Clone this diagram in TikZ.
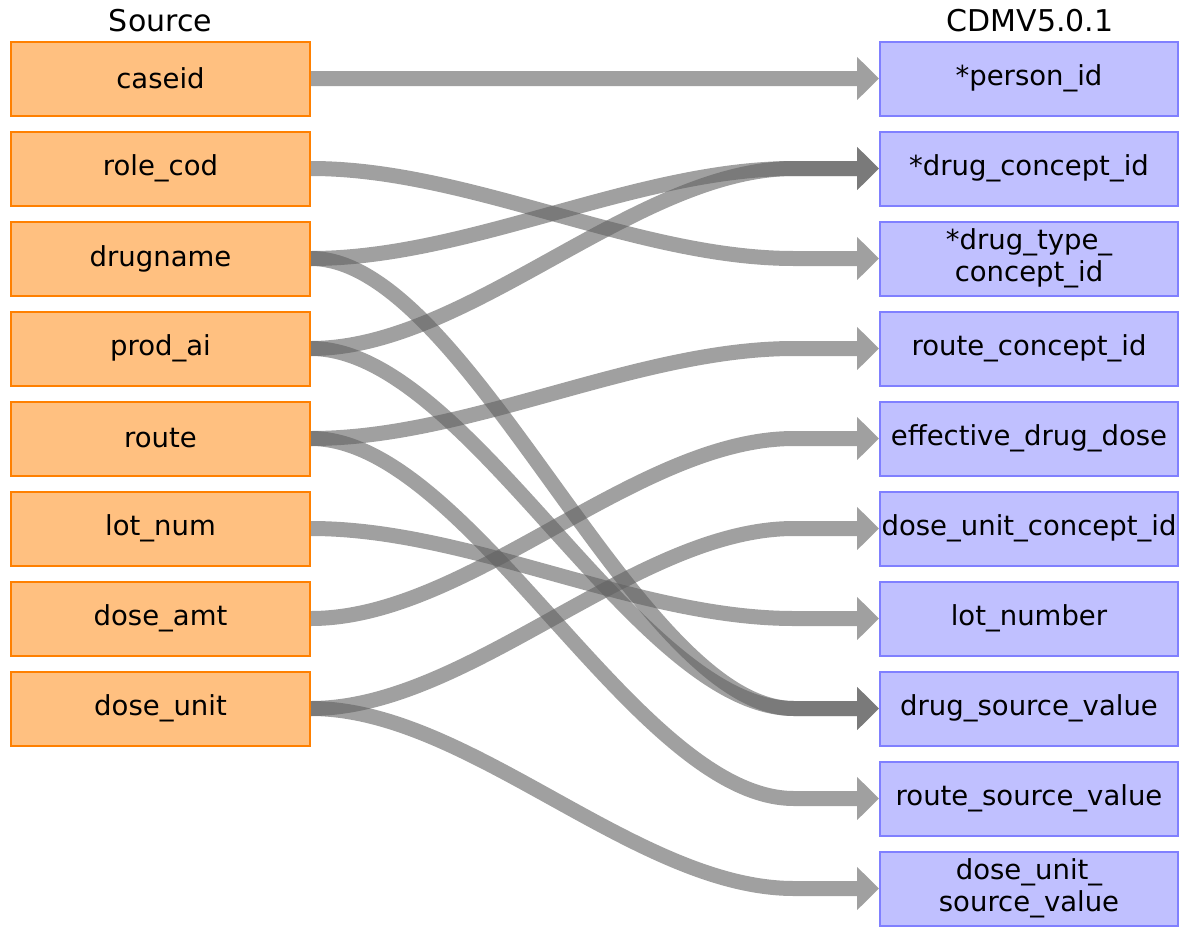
\documentclass[tikz,border=0pt]{standalone}
\usepackage{fontspec}
\setmainfont{DejaVu Sans}
\usetikzlibrary{arrows.meta,calc}
\definecolor{srcfill}{HTML}{FFC080}
\definecolor{srcdraw}{HTML}{FF8000}
\definecolor{tgtfill}{HTML}{C0C0FF}
\definecolor{tgtdraw}{HTML}{8080FF}
\definecolor{linkgray}{RGB}{97,97,97}
\tikzset{
  srcbox/.style={draw=srcdraw, fill=srcfill, line width=2pt, minimum width=299pt, minimum height=74pt, inner sep=0pt, align=center, font=\fontsize{27.5}{32}\selectfont},
  tgtbox/.style={draw=tgtdraw, fill=tgtfill, line width=2pt, minimum width=298pt, minimum height=74pt, inner sep=0pt, align=center, font=\fontsize{27.5}{32}\selectfont},
  coltitle/.style={inner sep=0pt, font=\fontsize{30}{32}\selectfont},
  link/.style={draw=linkgray, line width=15pt, -{Triangle[length=22pt,width=42pt]}},
  linkgrp/.style={transparency group, opacity=0.6}
}
\newcommand{\lnk}[2]{\begin{scope}[linkgrp]\draw[link] (#1.east) .. controls ($(#1.east)+(158,0)$) and ($(#2.west)+(-243,0)$) .. ($(#2.west)+(-85,0)$) -- (#2.west);\end{scope}}
\begin{document}
\begin{tikzpicture}[x=1pt,y=-1pt]
\useasboundingbox (0,0) rectangle (1180,926);
\node[coltitle] (tsrc) at (160.5,21) {Source};
\node[coltitle] (ttgt) at (1030,21) {CDMV5.0.1};
% source
\node[srcbox] (s1) at (160.5,78.5) {caseid};
\node[srcbox] (s2) at (160.5,168.5) {role\_cod};
\node[srcbox] (s3) at (160.5,258.5) {drugname};
\node[srcbox] (s4) at (160.5,348.5) {prod\_ai};
\node[srcbox] (s5) at (160.5,438.5) {route};
\node[srcbox] (s6) at (160.5,528.5) {lot\_num};
\node[srcbox] (s7) at (160.5,618.5) {dose\_amt};
\node[srcbox] (s8) at (160.5,708.5) {dose\_unit};
% target
\node[tgtbox] (t1) at (1029,78.5) {*person\_id};
\node[tgtbox] (t2) at (1029,168.5) {*drug\_concept\_id};
\node[tgtbox] (t3) at (1029,258.5) {*drug\_type\_\\concept\_id};
\node[tgtbox] (t4) at (1029,348.5) {route\_concept\_id};
\node[tgtbox] (t5) at (1029,438.5) {effective\_drug\_dose};
\node[tgtbox] (t6) at (1029,528.5) {dose\_unit\_concept\_id};
\node[tgtbox] (t7) at (1029,618.5) {lot\_number};
\node[tgtbox] (t8) at (1029,708.5) {drug\_source\_value};
\node[tgtbox] (t9) at (1029,798.5) {route\_source\_value};
\node[tgtbox] (t10) at (1029,888.5) {dose\_unit\_\\source\_value};
% links
\begin{scope}[linkgrp]\draw[link] (s1.east) -- (t1.west);\end{scope}
\lnk{s2}{t3}
\lnk{s3}{t2}
\lnk{s3}{t8}
\lnk{s4}{t2}
\lnk{s4}{t8}
\lnk{s5}{t4}
\lnk{s5}{t9}
\lnk{s6}{t7}
\lnk{s7}{t5}
\lnk{s8}{t6}
\lnk{s8}{t10}
\end{tikzpicture}
\end{document}
